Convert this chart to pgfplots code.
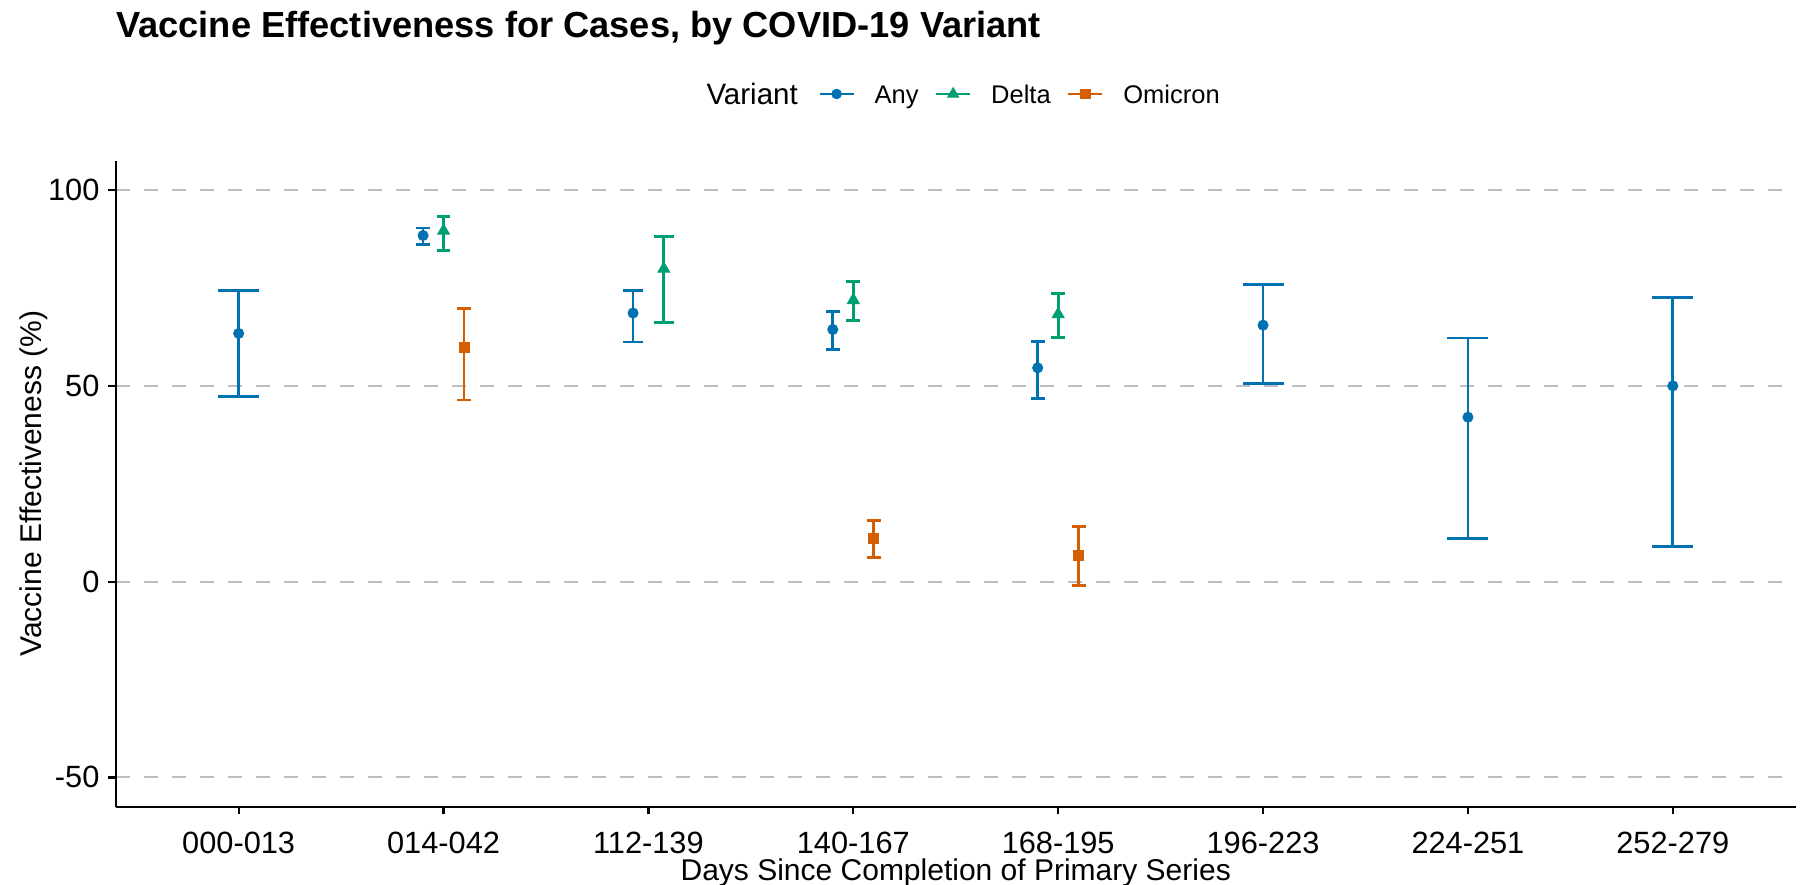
\documentclass[border=0pt]{standalone}
\usepackage{pgfplots}
\pgfplotsset{compat=1.18}
\usepackage{pgfplotstable}
\usepackage{fontspec}
\setmainfont{Liberation Sans}

\definecolor{anyc}{HTML}{0072B2}
\definecolor{deltac}{HTML}{009E73}
\definecolor{omic}{HTML}{D55E00}

% cat = category index, y = estimate, lo/hi = 95% CI
% categories with one variant
\pgfplotstableread{
cat y lo hi
1 63.4 47.3 74.4
6 65.5 50.7 75.9
7 42.0 11.0 62.2
8 50.0 8.9 72.5
}\anyone
% categories with two variants
\pgfplotstableread{
cat y lo hi
3 68.6 61.2 74.4
}\anytwo
\pgfplotstableread{
cat y lo hi
3 79.9 66.2 88.1
}\deltatwo
% categories with three variants
\pgfplotstableread{
cat y lo hi
2 88.4 86.2 90.3
4 64.4 59.2 68.9
5 54.6 46.8 61.3
}\anythree
\pgfplotstableread{
cat y lo hi
2 89.6 84.6 93.3
4 71.9 66.7 76.6
5 68.3 62.4 73.6
}\deltathree
\pgfplotstableread{
cat y lo hi
2 59.7 46.4 69.7
4 11.1 6.1 15.7
5 6.8 -0.9 14.1
}\omithree

% ci={colour}{cap half width}; keep it last in the option list
\pgfplotsset{
  ci/.style n args={2}{
    only marks, color=#1, forget plot,
    error bars/.cd, y dir=both, y explicit,
    error mark=|,
    error bar style={line width=1.1pt, color=#1},
    error mark options={line width=1.1pt, color=#1, mark size=#2},
  },
}

\begin{document}
\begin{tikzpicture}
\useasboundingbox (-46.3pt,-30.9pt) rectangle (674.1pt,322.7pt);
\begin{axis}[
    scale only axis,
    width=672pt, height=258.4pt,
    xmin=0.4, xmax=8.6, ymin=-57.5, ymax=107.5,
    clip=false,
    axis x line*=bottom, axis y line*=left,
    axis line style={line width=0.9pt, black, -},
    xtick={1,...,8},
    xticklabels={000-013,014-042,112-139,140-167,168-195,196-223,224-251,252-279},
    ytick={-50,0,50,100},
    yticklabels={-50,0,50,100},
    tick align=outside,
    major tick length=3pt,
    tick style={line width=0.9pt, black},
    ticklabel style={font=\fontsize{12.3}{14}\selectfont},
    xticklabel style={yshift=-3.5pt, text depth=0pt},
    /pgf/number format/assume math mode=true,
    ymajorgrids,
    major grid style={line width=0.8pt, color=gray!50, dash pattern=on 5.6pt off 5.6pt},
    title={Vaccine Effectiveness for Cases, by COVID-19 Variant},
    every axis title/.style={at={(axis description cs:0,1)}, anchor=base west,
      inner sep=0pt, yshift=49.1pt, font=\fontsize{14.5}{17}\bfseries},
    xlabel={Days Since Completion of Primary Series},
    ylabel={Vaccine Effectiveness (\%)},
    every axis x label/.style={at={(axis description cs:0.5,0)}, anchor=base,
      inner sep=0pt, yshift=-29.4pt, font=\fontsize{12}{14}\selectfont},
    every axis y label/.style={at={(axis description cs:0,0.5)}, xshift=-29.6pt,
      rotate=90, anchor=base, inner sep=0pt, font=\fontsize{12}{14}\selectfont},
    legend columns=-1,
    legend style={at={(0,1)}, anchor=west, xshift=281pt, yshift=26.7pt,
      draw=none, fill=none, inner sep=0pt, outer sep=0pt,
      font=\fontsize{10.2}{12}\selectfont,
      nodes={inner sep=0pt, text height=7.3pt, text depth=0pt},
      /tikz/every even column/.append style={column sep=6.5pt}},
    legend image code/.code={
      \draw[#1, line width=1.1pt] (0pt,0pt) -- (13.6pt,0pt);
      \draw[#1] plot coordinates {(6.8pt,0pt)};
      \path (21.8pt,0pt);
    },
]
\addlegendimage{anyc, mark=*, mark options={fill=anyc, mark size=1.9pt}}
\addlegendentry{Any}
\addlegendimage{deltac, mark=triangle*, mark options={fill=deltac, mark size=2.5pt}}
\addlegendentry{Delta}
\addlegendimage{omic, mark=square*, mark options={fill=omic, mark size=1.9pt}}
\addlegendentry{Omicron}

% Any
\addplot[mark=*, mark options={fill=anyc, mark size=2pt}, ci={anyc}{8.2pt}]
  table[x expr=\thisrow{cat}, y=y,
        y error plus expr=\thisrow{hi}-\thisrow{y},
        y error minus expr=\thisrow{y}-\thisrow{lo}] {\anyone};
\addplot[mark=*, mark options={fill=anyc, mark size=2pt}, ci={anyc}{4.1pt}]
  table[x expr=\thisrow{cat}-0.075, y=y,
        y error plus expr=\thisrow{hi}-\thisrow{y},
        y error minus expr=\thisrow{y}-\thisrow{lo}] {\anytwo};
\addplot[mark=*, mark options={fill=anyc, mark size=2pt}, ci={anyc}{2.73pt}]
  table[x expr=\thisrow{cat}-0.1, y=y,
        y error plus expr=\thisrow{hi}-\thisrow{y},
        y error minus expr=\thisrow{y}-\thisrow{lo}] {\anythree};
% Delta
\addplot[mark=triangle*, mark options={fill=deltac, mark size=2.7pt}, ci={deltac}{4.1pt}]
  table[x expr=\thisrow{cat}+0.075, y=y,
        y error plus expr=\thisrow{hi}-\thisrow{y},
        y error minus expr=\thisrow{y}-\thisrow{lo}] {\deltatwo};
\addplot[mark=triangle*, mark options={fill=deltac, mark size=2.7pt}, ci={deltac}{2.73pt}]
  table[x expr=\thisrow{cat}, y=y,
        y error plus expr=\thisrow{hi}-\thisrow{y},
        y error minus expr=\thisrow{y}-\thisrow{lo}] {\deltathree};
% Omicron
\addplot[mark=square*, mark options={fill=omic, mark size=2pt}, ci={omic}{2.73pt}]
  table[x expr=\thisrow{cat}+0.1, y=y,
        y error plus expr=\thisrow{hi}-\thisrow{y},
        y error minus expr=\thisrow{y}-\thisrow{lo}] {\omithree};

\node[anchor=base west, inner sep=0pt, font=\fontsize{11.8}{14}\selectfont]
  at ([xshift=236.1pt, yshift=22.6pt]axis description cs:0,1) {Variant};
\end{axis}
\end{tikzpicture}
\end{document}
